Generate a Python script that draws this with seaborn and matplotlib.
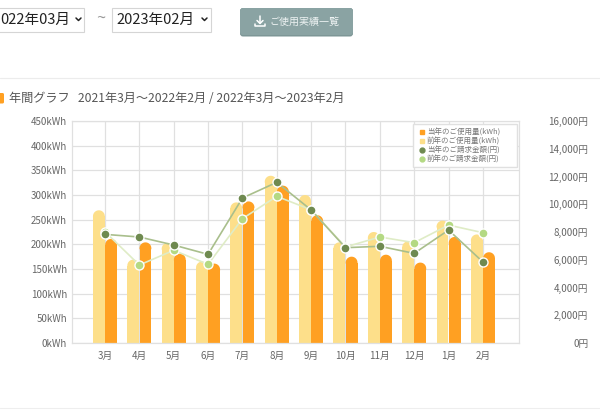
import matplotlib
matplotlib.use("Agg")
import matplotlib.pyplot as plt
import numpy as np
import pandas as pd
import seaborn as sns
from matplotlib.lines import Line2D
from matplotlib.patches import FancyBboxPatch, Polygon, Rectangle
from matplotlib.transforms import IdentityTransform

months = ["3月", "4月", "5月", "6月", "7月", "8月", "9月", "10月", "11月", "12月", "1月", "2月"]
kwh_prev = [269, 169, 203, 165, 285, 339, 300, 204, 225, 206, 248, 220]
kwh_curr = [211, 204, 181, 161, 287, 319, 259, 175, 179, 163, 215, 184]
yen_curr = [7830, 7640, 7060, 6390, 10450, 11580, 9590, 6870, 6970, 6460, 8140, 5840]
yen_prev = [8020, 5620, 6680, 5670, 8960, 10570, 9600, 6920, 7640, 7230, 8500, 7950]
kwh_ticks = [0, 50, 100, 150, 200, 250, 300, 350, 400, 450]
yen_ticks = [0, 2000, 4000, 6000, 8000, 10000, 12000, 14000, 16000]

GRAY = "#666666"
ORANGE = "#ffa022"
YELLOW = "#fddf8a"
DARK = "#6f8a50"
DARK_LINE = "#a9bf8c"
LIGHT = "#b4d983"
LIGHT_LINE = "#dfecc6"

sns.set_theme(style="white")
plt.rcParams["font.family"] = ["Noto Sans CJK JP", "DejaVu Sans"]

fig = plt.figure(figsize=(6, 4.2), dpi=100)

# page around the chart, in pixels
page = fig.add_axes([0, 0, 1, 1])
page.set_xlim(0, 600)
page.set_ylim(420, 0)
page.axis("off")
for x0, w in [(-20, 104), (112, 99)]:
    page.add_patch(Rectangle((x0, 7.5), w, 24, fc="white", ec="#d5d5d5", lw=0.8))
page.text(0, 19.5, "022年03月", fontsize=10.5, color="#222222", va="center")
page.text(116, 19.5, "2023年02月", fontsize=10.5, color="#222222", va="center")
for cx in [78.5, 204.5]:
    page.plot([cx - 2.5, cx, cx + 2.5], [18, 20.5, 18], color="#222222", lw=1.1)
page.text(100.5, 18.5, "~", fontsize=12, color="#999999", ha="center", va="center")
page.add_patch(FancyBboxPatch((240, 8), 113, 28.5, boxstyle="round,pad=0,rounding_size=3", fc="#7d9696", ec="none"))
page.add_patch(FancyBboxPatch((240, 8), 113, 27, boxstyle="round,pad=0,rounding_size=3", fc="#8aa3a3", ec="none"))
page.text(269, 21.5, "ご使用実績一覧", fontsize=7.2, color="#eef3f3", va="center")
# download icon, no installed font has it
page.plot([260, 260], [16, 23], color="white", lw=1.1)
page.plot([257, 260, 263], [20.5, 23.5, 20.5], color="white", lw=1.1)
page.plot([255, 255, 265, 265], [23.5, 25.5, 25.5, 23.5], color="white", lw=1.1)
page.plot([0, 600], [77.5, 77.5], color="#ececec", lw=0.8)
page.plot([0, 600], [407.5, 407.5], color="#eeeeee", lw=0.8)
page.add_patch(FancyBboxPatch((-3, 93), 7, 10.5, boxstyle="round,pad=0,rounding_size=1.5", fc=ORANGE, ec="none"))
page.text(9, 98, "年間グラフ   2021年3月～2022年2月 / 2022年3月～2023年2月", fontsize=8.75, color="#555555", va="center")

# plot area 72..519 x 121..343 px
ax = fig.add_axes([72 / 600, 1 - 343 / 420, 447 / 600, 222 / 420])
bars = pd.DataFrame({
    "month": months * 2,
    "kwh": kwh_prev + kwh_curr,
    "series": ["前年"] * 12 + ["当年"] * 12,
})
sns.barplot(data=bars, x="month", y="kwh", hue="series", palette=[YELLOW, ORANGE],
            width=0.71, gap=0.03, saturation=1, linewidth=0, legend=False, ax=ax)
ax.set_ylim(0, 450)
ax.set_yticks(kwh_ticks, [f"{v}kWh" for v in kwh_ticks])
ax.set_xlabel("")
ax.set_ylabel("")
ax.set_axisbelow(True)
ax.grid(True, color="#e0e0e0", lw=0.9)
ax.tick_params(length=0, labelsize=7, labelcolor=GRAY)
ax.tick_params(axis="x", pad=6)
ax.tick_params(axis="y", pad=3.5)
for side in ax.spines.values():
    side.set_color("#e0e0e0")
    side.set_linewidth(0.9)

# yen lines on the right axis
ax2 = ax.twinx()
sns.lineplot(x=months, y=yen_prev, sort=False, color=LIGHT_LINE, lw=1.2, marker="o", ms=6.5,
             markerfacecolor=LIGHT, markeredgecolor="white", markeredgewidth=1.0, errorbar=None, ax=ax2)
sns.lineplot(x=months, y=yen_curr, sort=False, color=DARK_LINE, lw=1.2, marker="o", ms=6.5,
             markerfacecolor=DARK, markeredgecolor="white", markeredgewidth=1.0, errorbar=None, ax=ax2)
ax2.set_ylim(0, 16000)
ax2.set_yticks(yen_ticks, [f"{v:,}円" for v in yen_ticks])
ax2.tick_params(length=0, labelsize=7, labelcolor=GRAY, pad=50)
for label in ax2.get_yticklabels():
    label.set_ha("right")
ax2.grid(False)
for side in ax2.spines.values():
    side.set_visible(False)
ax.set_xlim(-0.96, 12.05)

# rounded tops: shorten each bar by its radius and put a half circle on it, in pixels
angles = np.linspace(0, np.pi, 25)
for bar in list(ax.patches):
    (x0, y0), (x1, y1) = ax.transData.transform([(bar.get_x(), 0), (bar.get_x() + bar.get_width(), bar.get_height())])
    r = (x1 - x0) / 2
    bar.set_height(bar.get_height() * (y1 - y0 - r) / (y1 - y0))
    cap = np.column_stack([x0 + r + r * np.cos(angles), y1 - r + r * np.sin(angles)])
    cap = np.vstack([[[x1, y1 - r - 1]], cap, [[x0, y1 - r - 1]]])
    ax.add_patch(Polygon(cap, closed=True, fc=bar.get_facecolor(), ec="none", transform=IdentityTransform()))

handles = [Line2D([], [], ls="", marker=m, ms=ms, color=c) for m, ms, c in
           [("s", 3, ORANGE), ("s", 3, YELLOW), ("o", 3.5, DARK), ("o", 3.5, LIGHT)]]
ax2.legend(handles, ["当年のご使用量(kWh)", "前年のご使用量(kWh)", "当年のご請求金額(円)", "前年のご請求金額(円)"],
           loc="upper left", bbox_to_anchor=(0.763, 0.9865, 0.2327, 0), mode="expand", borderaxespad=0, fontsize=5.4,
           labelcolor="#777777", frameon=True, fancybox=False, framealpha=1, edgecolor="#e0e0e0",
           labelspacing=0.12, handletextpad=0.1, handlelength=1.2, borderpad=0.55)

fig.savefig("out.png", dpi=100)
